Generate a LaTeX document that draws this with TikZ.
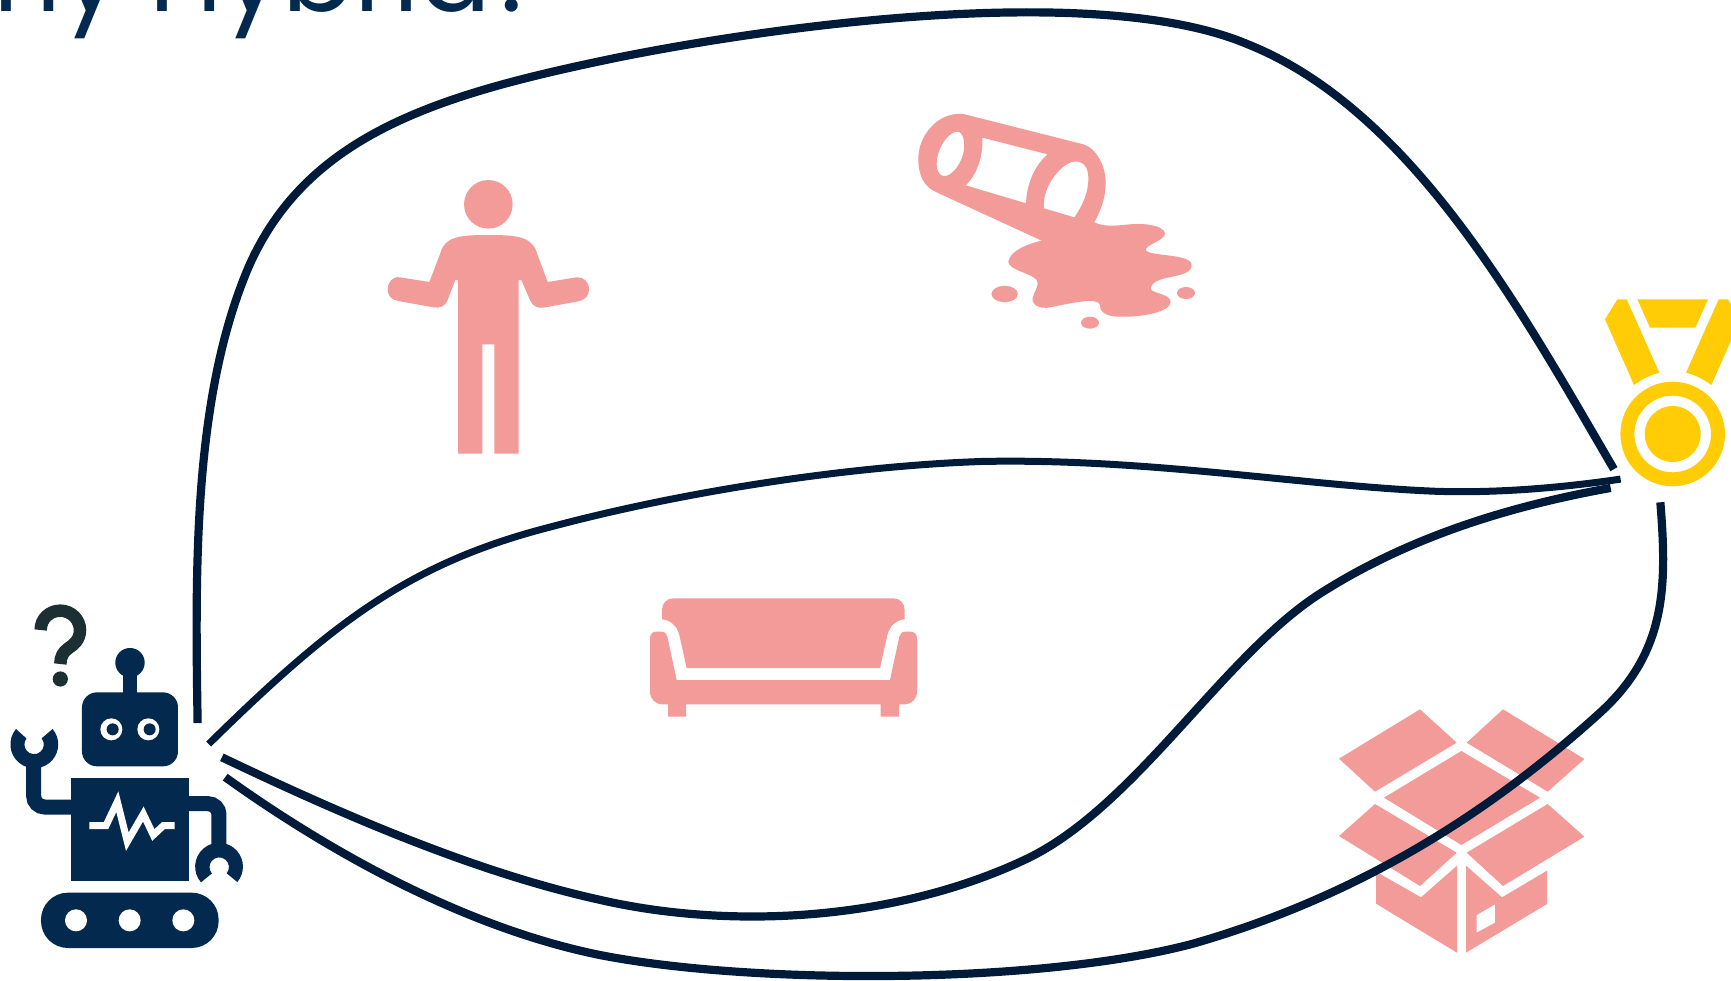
\documentclass[tikz,border=0pt]{standalone}
\usepackage{fontspec}
\setmainfont{Poppins}
\definecolor{robot}{HTML}{03294F}
\definecolor{wire}{HTML}{001B3A}
\definecolor{pinkish}{HTML}{F29B98}
\definecolor{medalc}{HTML}{FFCC05}
\definecolor{quest}{HTML}{1C2F33}
\tikzset{
  wirec/.style={draw=wire,line width=8.2pt,line cap=butt,line join=round},
  wirethin/.style={draw=wire,line width=7pt,line cap=butt,line join=round},
  zoomed/.style={x=0.33333pt,y=-0.33333pt},
  shownc/.style={x=1.10395pt,y=-1.10395pt},
  robotarm/.style={draw=robot,line width=15pt,rounded corners=11pt},
  titlefont/.style={text=robot,font=\fontsize{106}{106}\selectfont,inner sep=0pt}
}
\begin{document}
\begin{tikzpicture}[x=1pt,y=-1pt]
\useasboundingbox (0,0) rectangle (1731,980);
\clip (0,0) rectangle (1731,980);
\fill[white] (0,0) rectangle (1731,980);
\node[titlefont,anchor=base west] (title) at (-110,11) {Why Hybrid?};

% person
\begin{scope}[shift={(370,165)},zoomed]
\fill[pinkish] (355,118) circle[radius=24.3pt];
\fill[pinkish] (264,866) -- (337,866) -- (337,538) -- (373,538) -- (373,866) -- (446,866) -- (446,345) -- (454,345) -- (480,405) .. controls (487,425) and (505,430) .. (520,428) -- (625,409) .. controls (645,405) and (657,392) .. (657,373) .. controls (657,350) and (640,335) .. (620,337) -- (533,351) -- (500,262) .. controls (485,215) and (440,210) .. (355,210) .. controls (270,210) and (225,215) .. (212,262) -- (178,351) -- (90,337) .. controls (65,333) and (53,355) .. (53,373) .. controls (53,392) and (65,405) .. (85,408) -- (190,427) .. controls (210,430) and (225,425) .. (233,405) -- (256,345) -- (264,345) -- cycle;
\end{scope}

% spill
\begin{scope}[shift={(900,100)},zoomed]
\fill[pinkish,even odd rule] (190,42) -- (550,133) .. controls (590,145) and (618,200) .. (617,250) .. controls (616,300) and (600,335) .. (583,367) .. controls (610,380) and (640,378) .. (680,374) .. controls (730,368) and (790,375) .. (795,400) .. controls (797,420) and (735,435) .. (737,450) .. controls (745,470) and (875,460) .. (875,495) .. controls (875,540) and (760,520) .. (752,565) .. controls (750,580) and (810,580) .. (812,605) .. controls (812,635) and (730,652) .. (660,650) .. controls (610,650) and (598,630) .. (600,615) .. controls (595,590) and (510,610) .. (450,622) .. controls (420,628) and (395,615) .. (398,595) .. controls (400,575) and (420,560) .. (410,540) .. controls (395,520) and (325,510) .. (325,485) .. controls (330,450) and (390,430) .. (425,422) -- (110,277) .. controls (70,260) and (55,225) .. (55,175) .. controls (55,110) and (110,35) .. (190,42) -- cycle
(247,113) -- (443,163) .. controls (405,195) and (380,250) .. (378,310) -- (197,256) .. controls (230,225) and (250,170) .. (247,113) -- cycle
(432,325) -- (523,352) .. controls (560,300) and (570,250) .. (563,215) .. controls (555,180) and (520,175) .. (490,200) .. controls (450,235) and (428,280) .. (432,325) -- cycle
(170,95) .. controls (190,92) and (197,130) .. (190,160) .. controls (180,200) and (150,232) .. (130,228) .. controls (110,225) and (105,190) .. (115,160) .. controls (125,125) and (150,97) .. (170,95) -- cycle;
\fill[pinkish] (314,582) ellipse[x radius=13.2pt,y radius=8.2pt];
\fill[pinkish] (858,579) ellipse[x radius=9pt,y radius=6pt];
\fill[pinkish] (570,668) ellipse[x radius=9pt,y radius=6pt];
\end{scope}

% sofa
\begin{scope}[shift={(630,585)},zoomed]
\fill[pinkish] (96,103) -- (96,75) .. controls (96,55) and (110,40) .. (130,40) -- (790,40) .. controls (810,40) and (824,55) .. (824,75) -- (824,103) .. controls (800,105) and (780,120) .. (772,150) -- (750,249) -- (170,249) -- (148,150) .. controls (140,120) and (120,105) .. (96,103) -- cycle;
\fill[pinkish] (60,160) .. controls (60,148) and (68,140) .. (78,140) -- (95,140) .. controls (105,140) and (110,148) .. (112,155) -- (140,285) -- (780,285) -- (808,155) .. controls (810,148) and (815,140) .. (825,140) -- (842,140) .. controls (853,140) and (861,148) .. (861,160) -- (861,320) .. controls (861,342) and (845,358) .. (823,358) -- (807,358) -- (807,395) -- (752,395) -- (752,358) -- (168,358) -- (168,395) -- (114,395) -- (114,358) -- (98,358) .. controls (76,358) and (60,342) .. (60,320) -- cycle;
\end{scope}

% box
\begin{scope}[shift={(1320,690)},zoomed]
\fill[pinkish] (300,58) -- (410,158) -- (165,305) -- (57,206) -- cycle;
\fill[pinkish] (549,58) -- (793,207) -- (683,305) -- (440,158) -- cycle;
\fill[pinkish] (424,183) -- (660,323) -- (424,465) -- (192,323) -- cycle;
\fill[pinkish] (165,342) -- (410,488) -- (300,588) -- (57,438) -- cycle;
\fill[pinkish] (683,342) -- (793,440) -- (549,588) -- (440,488) -- cycle;
\fill[pinkish] (168,545) -- (303,622) -- (411,527) -- (411,788) -- (168,641) -- cycle;
\fill[pinkish,even odd rule] (438,527) -- (546,622) -- (681,542) -- (681,642) -- (438,788) -- cycle (470,675) -- (525,643) -- (525,698) -- (470,728) -- cycle;
\end{scope}

% medal
\begin{scope}[shift={(1560,280)},zoomed]
\fill[medalc,even odd rule] (338,462) circle[radius=52.3pt] (338,462) circle[radius=38.3pt];
\fill[medalc] (338,462) circle[radius=28pt];
\fill[medalc] (232,58) -- (444,58) -- (406,143) -- (270,143) -- cycle;
\fill[medalc] (172,58) -- (200,58) -- (298,278) .. controls (270,285) and (245,298) .. (222,315) -- (135,118) -- cycle;
\fill[medalc] (504,58) -- (476,58) -- (378,278) .. controls (406,285) and (431,298) .. (454,315) -- (541,118) -- cycle;
\end{scope}

% robot
\begin{scope}[shift={(0,590)},zoomed]
\draw[quest,line width=12.5pt] (122,120) .. controls (122,85) and (150,62) .. (181,62) .. controls (215,62) and (240,90) .. (240,120) .. controls (240,150) and (220,165) .. (205,175) .. controls (190,185) and (181,200) .. (181,222);
\fill[quest] (181,267) circle[radius=7.6pt];
\fill[robot,rounded corners=15pt] (246,307) rectangle (534,529);
\fill[robot] (368,250) rectangle (412,310);
\fill[robot] (390,218) circle[radius=14.7pt];
\fill[white] (334,418) circle[radius=11pt];
\fill[white] (445,418) circle[radius=11pt];
\fill[robot] (338,418) circle[radius=6pt];
\fill[robot] (449,418) circle[radius=6pt];
\fill[robot] (213,563) rectangle (568,874);
\draw[white,line width=7pt,miter limit=10] (268,707) -- (318,707) -- (352,635) -- (382,755) -- (430,672) -- (460,735) -- (490,707) -- (524,707);
\fill[robot,rounded corners=27pt] (123,908) rectangle (656,1074);
\fill[white] (228,991) circle[radius=11pt];
\fill[white] (389,991) circle[radius=11pt];
\fill[white] (550,991) circle[radius=11pt];
\draw[robotarm] (215,651) -- (101,651) -- (101,515);
\draw[robotarm] (566,641) -- (657,641) -- (657,775);
\fill[robot] (48,417) arc[start angle=140,end angle=400,radius=23.9pt] -- (125,445) arc[start angle=39,end angle=-218,radius=9.7pt] -- cycle;
\fill[robot] (603,877) arc[start angle=221,end angle=-40,radius=23.9pt] -- (680,850) arc[start angle=-40,end angle=221,radius=9.7pt] -- cycle;
\end{scope}

% connectors
\begin{scope}[shownc]
\coordinate (r1) at (179,655);
\coordinate (r2) at (189,674);
\coordinate (r3) at (201,686);
\coordinate (r4) at (204,704);
\coordinate (m1) at (1462,425);
\coordinate (m2) at (1468,434);
\coordinate (m3) at (1459,442);
\coordinate (m4) at (1504,455);
\draw[wirec] (r1) .. controls (177,520) and (174,360) .. (226,240) .. controls (280,120) and (400,85) .. (560,52) .. controls (720,20) and (1000,-15) .. (1130,40) .. controls (1280,100) and (1380,285) .. (m1);
\draw[wirethin] (r2) .. controls (300,565) and (370,510) .. (500,477) .. controls (620,445) and (770,422) .. (890,418) .. controls (1040,415) and (1180,440) .. (1300,445) .. controls (1360,447) and (1420,441) .. (m2);
\draw[wirec] (m3) .. controls (1370,458) and (1280,485) .. (1200,535) .. controls (1110,590) and (1030,730) .. (930,778) .. controls (810,835) and (660,842) .. (543,815) .. controls (430,790) and (310,738) .. (r3);
\draw[wirec] (m4) .. controls (1510,530) and (1510,590) .. (1450,645) .. controls (1340,745) and (1220,815) .. (1080,855) .. controls (940,892) and (680,892) .. (543,865) .. controls (430,842) and (310,780) .. (r4);
\end{scope}
\end{tikzpicture}
\end{document}
